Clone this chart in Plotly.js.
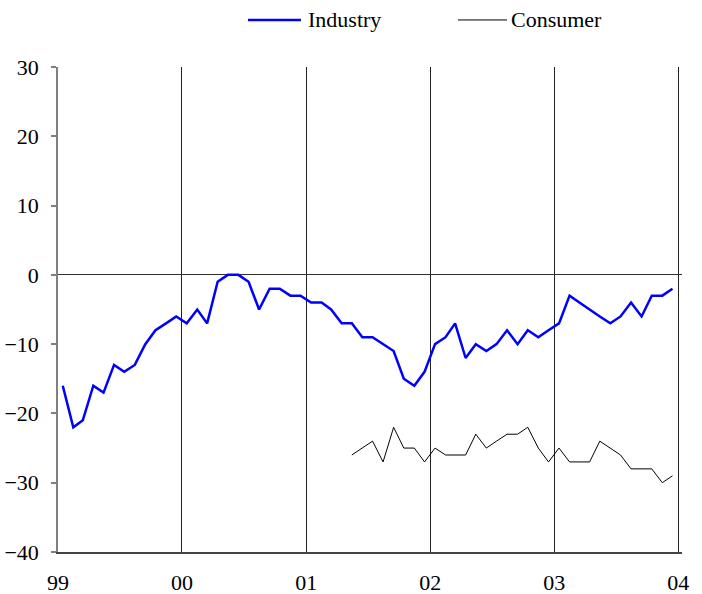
<!DOCTYPE html>
<html>
<head>
<meta charset="utf-8">
<script src="https://cdn.plot.ly/plotly-3.0.1.min.js"></script>
<style>
#chart text{font-family:'Liberation Serif', serif !important;}
</style>
</head>
<body style="margin:0;background:#fff">
<div id="chart"></div>
<script>
// Monthly data, Jan 1999 - Dec 2003
var startYear = 1999;
var industry = [-16,-22,-21,-16,-17,-13,-14,-13,-10,-8,-7,-6,
                -7,-5,-7,-1,0,0,-1,-5,-2,-2,-3,-3,
                -4,-4,-5,-7,-7,-9,-9,-10,-11,-15,-16,-14,
                -10,-9,-7,-12,-10,-11,-10,-8,-10,-8,-9,-8,
                -7,-3,-4,-5,-6,-7,-6,-4,-6,-3,-3,-2];
// Consumer series starts May 2001 (month index 28)
var consumerStartIndex = 28;
var consumer = [-26,-25,-24,-27,-22,-25,-25,-27,
                -25,-26,-26,-26,-23,-25,-24,-23,-23,-22,-25,-27,
                -25,-27,-27,-27,-24,-25,-26,-28,-28,-28,-30,-29];
var yTicks = [-40,-30,-20,-10,0,10,20,30];
var seriesNames = ['Industry','Consumer'];

function monthDate(i){
  var y = startYear + Math.floor(i/12);
  var m = (i % 12) + 1;
  return y + '-' + (m<10?'0':'') + m + '-15';
}
var xInd = industry.map(function(v,i){return monthDate(i);});
var xCon = consumer.map(function(v,i){return monthDate(i+consumerStartIndex);});

var serifFam = 'Liberation Serif';

var traces = [
  {x:xInd, y:industry, type:'scatter', mode:'lines', name:seriesNames[0],
   line:{color:'#0000FF', width:2.5}, showlegend:false},
  {x:xCon, y:consumer, type:'scatter', mode:'lines', name:seriesNames[1],
   line:{color:'#000000', width:1}, showlegend:false}
];

var layout = {
  width:702, height:594,
  margin:{l:58, r:20, t:67, b:42},
  paper_bgcolor:'#fff', plot_bgcolor:'#fff',
  font:{family:serifFam, size:22, color:'#000'},
  xaxis:{
    type:'date',
    range:['1999-01-01','2004-01-12'],
    tick0:'1999-01-01', dtick:'M12', tickformat:'%y',
    showgrid:true, gridcolor:'#222', gridwidth:1,
    showline:true, linecolor:'#444', linewidth:1.5,
    ticks:'', ticklabelstandoff:10,
    tickfont:{family:serifFam, size:22, color:'#000'},
    zeroline:false
  },
  yaxis:{
    range:[-40,30], tickvals:yTicks,
    showgrid:false,
    zeroline:true, zerolinecolor:'#333', zerolinewidth:1,
    showline:true, linecolor:'#808080', linewidth:1.5,
    ticks:'outside', ticklen:5, tickcolor:'#808080', tickwidth:1.5,
    ticklabelstandoff:8,
    tickfont:{family:serifFam, size:22, color:'#000'}
  },
  shapes:[
    {type:'line', xref:'paper', yref:'paper', x0:0.3045, x1:0.3894, y0:1.097, y1:1.097,
     line:{color:'#0000FF', width:2.5}},
    {type:'line', xref:'paper', yref:'paper', x0:0.641, x1:0.7196, y0:1.097, y1:1.097,
     line:{color:'#000000', width:1}}
  ],
  annotations:[
    {xref:'paper', yref:'paper', x:0.3975, y:1.097, xanchor:'left', yanchor:'middle',
     text:seriesNames[0], showarrow:false, font:{family:serifFam, size:22, color:'#000'}},
    {xref:'paper', yref:'paper', x:0.722, y:1.097, xanchor:'left', yanchor:'middle',
     text:seriesNames[1], showarrow:false, font:{family:serifFam, size:22, color:'#000'}}
  ]
};

function forceSerif(){
  var ts = document.querySelectorAll('#chart text');
  for (var i=0;i<ts.length;i++){ ts[i].style.fontFamily = "'Liberation Serif', serif"; }
}
Plotly.newPlot('chart', traces, layout, {displayModeBar:false}).then(forceSerif);
</script>
</body>
</html>
